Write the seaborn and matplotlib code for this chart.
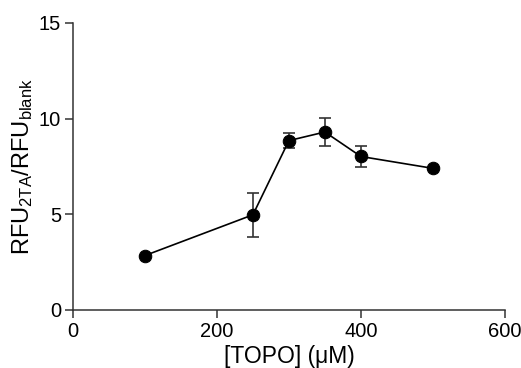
import matplotlib
matplotlib.use("Agg")
import matplotlib.pyplot as plt
import seaborn as sns
import pandas as pd

# TOPO titration: mean fluorescence ratio and standard deviation
topo_um = [100, 250, 300, 350, 400, 500]
rfu_ratio = [2.84, 4.97, 8.85, 9.30, 8.02, 7.40]
rfu_sd = [0.0, 1.16, 0.40, 0.74, 0.55, 0.0]

df = pd.DataFrame({"topo": topo_um, "ratio": rfu_ratio, "sd": rfu_sd})

sns.set_theme(style="ticks")
plt.rcParams["font.family"] = ["Liberation Sans", "DejaVu Sans"]
plt.rcParams["mathtext.fontset"] = "custom"
plt.rcParams["mathtext.rm"] = "Liberation Sans"
plt.rcParams["mathtext.it"] = "Liberation Sans:italic"
plt.rcParams["text.color"] = "black"
plt.rcParams["axes.labelcolor"] = "black"

fig = plt.figure(figsize=(5.21, 3.68), dpi=100)
ax = fig.add_axes([0.140, 0.158, 0.829, 0.7795])

ax.errorbar(df["topo"], df["ratio"], yerr=df["sd"], fmt="none",
            ecolor="#333333", elinewidth=1.2, capsize=4, capthick=1.2, zorder=2)
sns.lineplot(data=df, x="topo", y="ratio", ax=ax, color="black", linewidth=1.2,
             marker="o", markersize=9, markeredgecolor="black",
             markerfacecolor="black", zorder=3)

ax.set_xlim(0, 600)
ax.set_ylim(0, 15)
ax.set_xticks([0, 200, 400, 600])
ax.set_yticks([0, 5, 10, 15])
ax.set_xlabel("[TOPO] (μM)", fontsize=16.5, labelpad=3)
ax.set_ylabel(r"RFU$_\mathregular{2TA}$/RFU$_\mathregular{blank}$",
              fontsize=17, labelpad=3)

for side in ("left", "bottom"):
    ax.spines[side].set_linewidth(1.1)
    ax.spines[side].set_color("#333333")
sns.despine(ax=ax)
ax.tick_params(axis="both", labelsize=14.5, length=6, width=1.1, color="#333333",
               pad=2.5, labelcolor="black")

fig.savefig("out.png", dpi=100)
